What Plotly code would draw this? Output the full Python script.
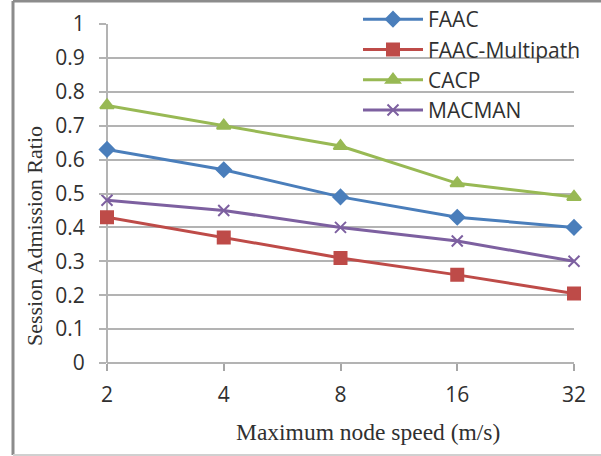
import plotly.graph_objects as go

speeds = ["2", "4", "8", "16", "32"]
faac = [0.63, 0.57, 0.49, 0.43, 0.40]
faac_multipath = [0.43, 0.37, 0.31, 0.26, 0.205]
cacp = [0.76, 0.70, 0.64, 0.53, 0.49]
macman = [0.48, 0.45, 0.40, 0.36, 0.30]
y_ticks = [0, 0.1, 0.2, 0.3, 0.4, 0.5, 0.6, 0.7, 0.8, 0.9, 1]
y_tick_text = ["0", "0.1", "0.2", "0.3", "0.4", "0.5", "0.6", "0.7", "0.8", "0.9", "1"]

W, H = 601, 456
L, R, T, B = 107, 27, 24, 93
TEXT = "#303030"

series = [
    ("FAAC", faac, "#4a7ebb", "diamond", 11),
    ("FAAC-Multipath", faac_multipath, "#be4b48", "square", 12),
    ("CACP", cacp, "#98b954", "triangle-up", 12),
    ("MACMAN", macman, "#7d60a0", "x-thin-open", 11),
]

fig = go.Figure()
for name, vals, color, sym, size in series:
    fig.add_trace(go.Scatter(
        x=speeds, y=vals, name=name, mode="lines+markers",
        line=dict(color=color, width=3),
        marker=dict(symbol=sym, size=size, color=color,
                    line=dict(color=color, width=2)),
        cliponaxis=False,
    ))


def px_x(p):
    return (p - L) / (W - L - R)


def px_y(p):
    return (H - B - p) / (H - T - B)


# outer frame of the chart area
frame = [
    (px_x(13), px_y(1), px_x(13), px_y(455), "#8c8c8c", 3),
    (px_x(13), px_y(1), px_x(601), px_y(1), "#8c8c8c", 3),
    (px_x(13), px_y(455), px_x(601), px_y(455), "#d0d0d0", 2),
]
for x0, y0, x1, y1, c, w in frame:
    fig.add_shape(type="line", xref="paper", yref="paper",
                  x0=x0, y0=y0, x1=x1, y1=y1,
                  line=dict(color=c, width=w), layer="below")

# axis lines along the left edge and the bottom
fig.add_shape(type="line", xref="paper", yref="paper", x0=0, x1=0, y0=0, y1=1,
              line=dict(color="#b3b3b3", width=2), layer="below")
fig.add_shape(type="line", xref="paper", yref="paper", x0=0, x1=1, y0=0, y1=0,
              line=dict(color="#b3b3b3", width=2), layer="below")

# axis titles
fig.add_annotation(text="Maximum node speed (m/s)", xref="paper", yref="paper",
                   x=px_x(368), y=px_y(432), showarrow=False,
                   xanchor="center", yanchor="middle",
                   font=dict(family="Liberation Serif", size=23.5, color=TEXT))
fig.add_annotation(text="Session Admission Ratio", xref="paper", yref="paper",
                   x=px_x(35), y=px_y(236), showarrow=False, textangle=-90,
                   xanchor="center", yanchor="middle",
                   font=dict(family="Liberation Serif", size=22, color=TEXT))

fig.update_layout(
    width=W, height=H,
    margin=dict(l=L, r=R, t=T, b=B, autoexpand=False),
    paper_bgcolor="white", plot_bgcolor="white",
    font=dict(family="Open Sans", size=21, color=TEXT),
    showlegend=True,
    legend=dict(x=px_x(358), y=px_y(-1), xanchor="left", yanchor="top",
                bgcolor="rgba(0,0,0,0)", tracegroupgap=0, itemwidth=60,
                font=dict(family="Open Sans", size=21, color=TEXT)),
    xaxis=dict(
        type="category", range=[0, 4], automargin=False,
        showgrid=False, showline=False, zeroline=False,
        ticks="outside", ticklen=7, tickcolor="#a6a6a6", tickwidth=2,
        ticklabelstandoff=6,
        tickfont=dict(family="Open Sans", size=21, color=TEXT),
    ),
    yaxis=dict(
        range=[0, 1], tickvals=y_ticks, ticktext=y_tick_text, automargin=False,
        showgrid=True, gridcolor="#b3b3b3", gridwidth=2,
        zeroline=False, showline=False,
        ticks="outside", ticklen=7, tickcolor="#b3b3b3", tickwidth=2,
        ticklabelstandoff=10,
        tickfont=dict(family="Open Sans", size=21, color=TEXT),
    ),
)

fig.write_html("out.html")
